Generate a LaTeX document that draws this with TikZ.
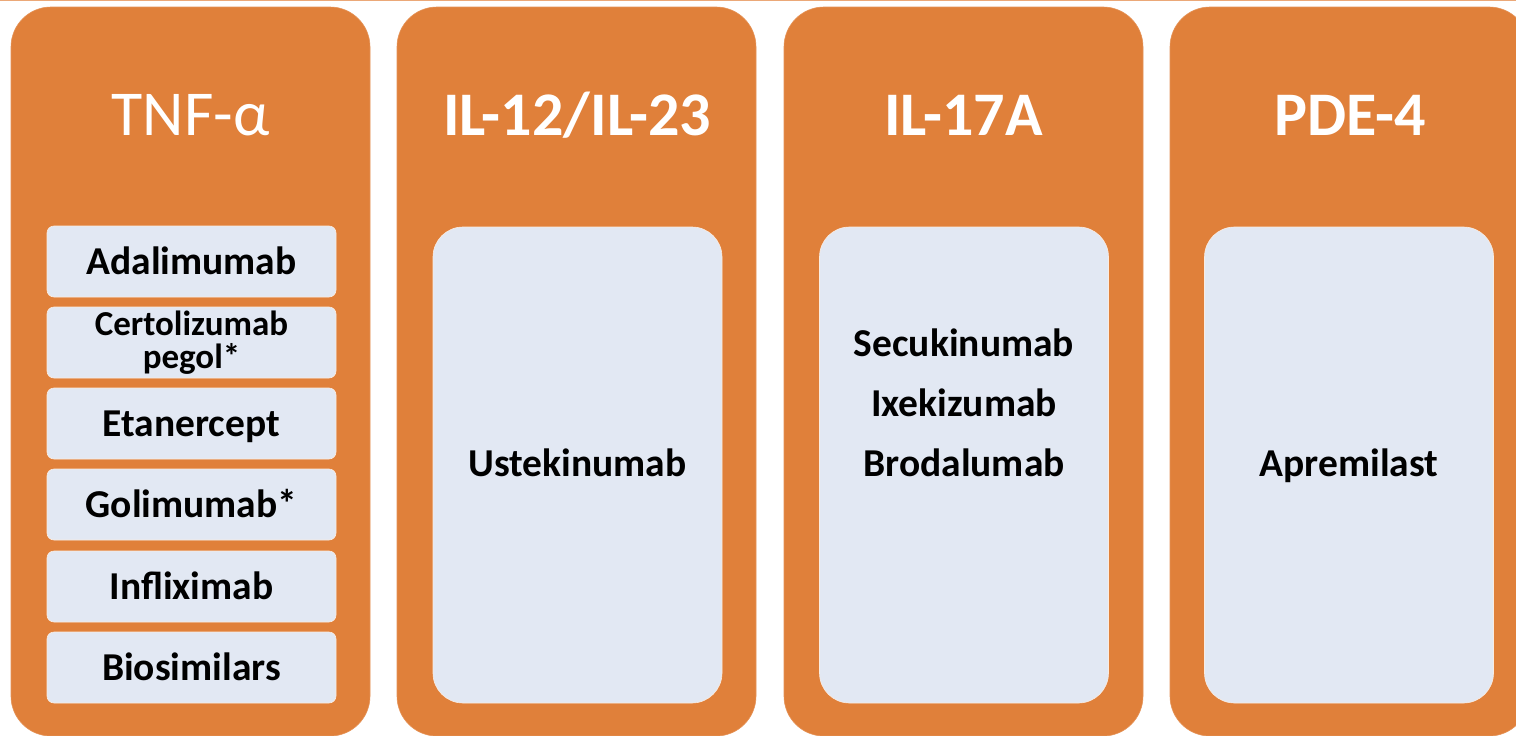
\documentclass[tikz,border=0pt]{standalone}
\usepackage{fontspec}
\setmainfont{Carlito}
\definecolor{colorange}{HTML}{E0803A}
\definecolor{topline}{HTML}{EBA878}
\definecolor{boxfill}{HTML}{E2E8F3}
\tikzset{
  column/.style={fill=colorange, draw=colorange!85!white, line width=0.6pt,
    rounded corners=40pt, minimum width=359pt, minimum height=729pt, inner sep=0pt},
  header/.style={text=white, font=\fontsize{62}{70}\selectfont\bfseries, anchor=base},
  bigbox/.style={fill=boxfill, draw=white!85!colorange, line width=0.6pt,
    rounded corners=30pt, minimum width=289pt, minimum height=476pt, inner sep=0pt},
  smallbox/.style={fill=boxfill, draw=white!85!colorange, line width=0.6pt,
    rounded corners=7pt, minimum width=289pt, minimum height=71pt, inner sep=0pt},
  drug/.style={text=black, font=\fontsize{39.5}{44}\selectfont\bfseries, anchor=base},
}
\begin{document}
\begin{tikzpicture}[x=1pt, y=-1pt]
  \useasboundingbox (0,0) rectangle (1516,736);
  \clip (0,0) rectangle (1516,736);
  \fill[white] (0,0) rectangle (1516,736);
  % thin rule along the top edge
  \draw[topline, line width=2.5pt] (0,0) -- (1516,0);

  % the four target columns
  \node[column] (c1) at (190.5,371.5) {};
  \node[column] (c2) at (576.5,371.5) {};
  \node[column] (c3) at (963.5,371.5) {};
  \node[column] (c4) at (1349.5,371.5) {};

  % column headings
  \node[header, font=\fontsize{64}{70}\selectfont] (h1) at (190.5,135) {TNF-α};
  \node[header] (h2) at (577,135) {IL-12/IL-23};
  \node[header] (h3) at (963.5,135) {IL-17A};
  \node[header] (h4) at (1350,135) {PDE-4};

  % TNF-alpha agents
  \node[smallbox] (b1) at (191.5,261.5) {};
  \node[smallbox] (b2) at (191.5,342.5) {};
  \node[smallbox] (b3) at (191.5,423.5) {};
  \node[smallbox] (b4) at (191.5,504.5) {};
  \node[smallbox] (b5) at (191.5,586.5) {};
  \node[smallbox] (b6) at (191.5,667.5) {};
  \node[drug] (t1) at (191.5,274) {Adalimumab};
  \node[drug, font=\fontsize{35}{33}\selectfont\bfseries, align=center] (t2)
    at (191.5,368) {Certolizumab\\pegol*};
  \node[drug] (t3) at (191.5,436) {Etanercept};
  \node[drug] (t4) at (191.5,517) {Golimumab*};
  \node[drug] (t5) at (191.5,599) {Infliximab};
  \node[drug] (t6) at (191.5,680) {Biosimilars};

  % agents of the other classes
  \node[bigbox] (g2) at (577.5,465) {};
  \node[bigbox] (g3) at (964,465) {};
  \node[bigbox] (g4) at (1349,465) {};
  \node[drug] (u1) at (577.5,476) {Ustekinumab};
  \node[drug] (s1) at (964,356) {Secukinumab};
  \node[drug] (s2) at (964,416) {Ixekizumab};
  \node[drug] (s3) at (964,476) {Brodalumab};
  \node[drug] (a1) at (1349,476) {Apremilast};
\end{tikzpicture}
\end{document}
